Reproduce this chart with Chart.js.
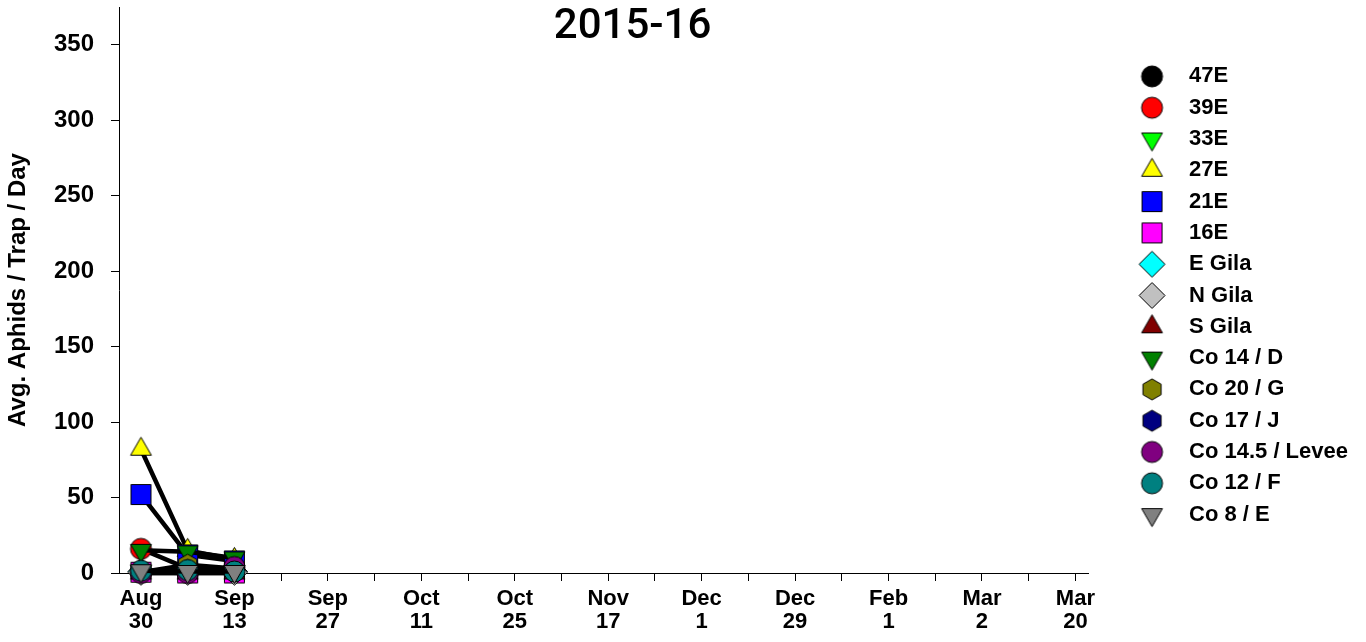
<!DOCTYPE html>
<html>
<head>
<meta charset="utf-8">
<script src="https://cdn.jsdelivr.net/npm/chart.js@4.4.1/dist/chart.umd.min.js"></script>
<style>
  html, body { margin: 0; padding: 0; background: #fff; }
  #wrap { width: 1366px; height: 642px; }
</style>
</head>
<body>
<div id="wrap"><canvas id="aphidChart"></canvas></div>
<script>
// ---------------------------------------------------------------
//  data
// ---------------------------------------------------------------
const seasonTitle = '2015-16';
const yTitle = 'Avg. Aphids / Trap / Day';

// weekly trap dates, only every other one is labelled
const xLabels = ['Aug 30', '', 'Sep 13', '', 'Sep 27', '', 'Oct 11', '', 'Oct 25', '',
  'Nov 17', '', 'Dec 1', '', 'Dec 29', '', 'Feb 1', '', 'Mar 2', '', 'Mar 20'];
const yTicks = [0, 50, 100, 150, 200, 250, 300, 350];

const seriesNames = ['47E', '39E', '33E', '27E', '21E', '16E', 'E Gila', 'N Gila', 'S Gila',
  'Co 14 / D', 'Co 20 / G', 'Co 17 / J', 'Co 14.5 / Levee', 'Co 12 / F', 'Co 8 / E'];

// values for the first three weeks (nothing recorded after that)
const v47E    = [0.5, 0.3, 0.3];
const v39E    = [16, 3, 2];
const v33E    = [1, 1, 1];
const v27E    = [82, 15, 9];
const v21E    = [52, 12, 8];
const v16E    = [0.5, 0, 0];
const vEGila  = [1, 1, 1];
const vNGila  = [0.5, 0.5, 0.5];
const vSGila  = [0, 0, 0];
const vCo14   = [15, 14, 10];
const vCo20   = [0.5, 5.5, 3];
const vCo17   = [1, 2, 3];
const vCo145  = [0, 0, 4];
const vCo12   = [1.5, 2, 1];
const vCo8    = [1.5, 1, 1];
const seriesValues = [v47E, v39E, v33E, v27E, v21E, v16E, vEGila, vNGila, vSGila,
  vCo14, vCo20, vCo17, vCo145, vCo12, vCo8];

// ---------------------------------------------------------------
//  marker styles
// ---------------------------------------------------------------
const seriesColors = ['#000000', '#ff0000', '#00ff00', '#ffff00', '#0000ff', '#ff00ff', '#00ffff',
  '#c0c0c0', '#800000', '#008000', '#808000', '#000080', '#800080', '#008080', '#808080'];
const seriesShapes = ['circle', 'circle', 'down', 'up', 'square', 'square', 'diamond', 'diamond',
  'up', 'down', 'hex', 'hex', 'circle', 'circle', 'down'];

function makeMarker(shape, fill) {
  const c = document.createElement('canvas');
  c.width = 29; c.height = 29;
  const g = c.getContext('2d');
  const m = 14.5;
  g.fillStyle = fill;
  g.strokeStyle = '#000';
  g.lineWidth = 1;
  g.beginPath();
  if (shape === 'circle') {
    g.arc(m, m, 10.5, 0, Math.PI * 2);
  } else if (shape === 'square') {
    g.rect(m - 10, m - 10, 20, 20);
  } else if (shape === 'up') {
    g.moveTo(m, m - 12); g.lineTo(m + 10.4, m + 6); g.lineTo(m - 10.4, m + 6);
  } else if (shape === 'down') {
    g.moveTo(m, m + 12); g.lineTo(m + 10.4, m - 6); g.lineTo(m - 10.4, m - 6);
  } else if (shape === 'diamond') {
    g.moveTo(m, m - 13); g.lineTo(m + 13, m); g.lineTo(m, m + 13); g.lineTo(m - 13, m);
  } else if (shape === 'hex') {
    for (let k = 0; k < 6; k++) {
      const a = (-90 + k * 60) * Math.PI / 180;
      const px = m + Math.cos(a) * 10.5, py = m + Math.sin(a) * 10.5;
      if (k === 0) g.moveTo(px, py); else g.lineTo(px, py);
    }
  }
  g.closePath();
  g.fill();
  g.stroke();
  return c;
}

const datasets = seriesNames.map((name, i) => ({
  label: name,
  data: seriesValues[i].map((v, k) => ({ x: k, y: v })),
  borderColor: '#000',
  backgroundColor: seriesColors[i],
  borderWidth: 4.5,
  tension: 0,
  pointStyle: makeMarker(seriesShapes[i], seriesColors[i]),
  pointRadius: 10,
  pointHoverRadius: 10,
  clip: false,
  order: seriesNames.length - i   // last series ends up on top
}));

// title sits inside the plot, not in the layout
const titlePlugin = {
  id: 'seasonTitle',
  afterDraw(chart) {
    const { ctx, chartArea } = chart;
    ctx.save();
    ctx.font = '500 42px Roboto';
    ctx.fillStyle = '#000';
    ctx.textAlign = 'center';
    ctx.textBaseline = 'middle';
    ctx.fillText(seasonTitle, chartArea.left + (chartArea.right - chartArea.left) * 0.53, 27);
    ctx.restore();
  }
};

const tickFont = { family: '"Liberation Sans", Arial, sans-serif', weight: 'bold' };

new Chart(document.getElementById('aphidChart'), {
  type: 'line',
  data: { datasets },
  plugins: [titlePlugin],
  options: {
    responsive: true,
    maintainAspectRatio: false,
    animation: false,
    events: [],
    layout: { autoPadding: false, padding: { top: 7, right: 8 } },
    scales: {
      x: {
        type: 'linear',
        min: -0.47,
        max: 20.27,
        afterBuildTicks: (s) => { s.ticks = xLabels.map((_, i) => ({ value: i })); },
        afterFit: (s) => { s.height = 69; },
        border: { display: true, color: '#000', width: 1 },
        grid: { drawOnChartArea: false, drawTicks: true, tickLength: 8, color: '#000' },
        ticks: {
          autoSkip: false, maxRotation: 0, minRotation: 0, padding: 6, color: '#000',
          font: { ...tickFont, size: 22, lineHeight: 1.05 },
          callback: (v) => (xLabels[v] ? xLabels[v].split(' ') : '')
        }
      },
      y: {
        min: 0,
        max: 375,
        afterBuildTicks: (s) => { s.ticks = yTicks.map((v) => ({ value: v })); },
        afterFit: (s) => { s.width = 119; s.paddingTop = 0; s.paddingBottom = 0; },
        border: { display: true, color: '#000', width: 1 },
        grid: { drawOnChartArea: false, drawTicks: true, tickLength: 8, color: '#000' },
        ticks: { padding: 17, color: '#000', font: { ...tickFont, size: 24 } },
        title: { display: true, text: yTitle, color: '#000', font: { ...tickFont, size: 24 } }
      },
      yPad: {
        position: 'right',
        display: true,
        afterFit: (s) => { s.width = 28.7; s.paddingTop = 0; s.paddingBottom = 0; },
        border: { display: false },
        grid: { display: false },
        ticks: { display: false }
      }
    },
    plugins: {
      title: { display: false },
      tooltip: { enabled: false },
      legend: {
        position: 'right',
        fullSize: false,
        maxWidth: 320,
        title: { display: true, text: '', padding: 0, font: { size: 11, lineHeight: 1 } },
        labels: {
          usePointStyle: true,
          pointStyleWidth: 52,
          padding: 9.3,
          color: '#000',
          font: { ...tickFont, size: 22 },
          sort: (a, b) => a.datasetIndex - b.datasetIndex
        }
      }
    }
  }
});
</script>
</body>
</html>
